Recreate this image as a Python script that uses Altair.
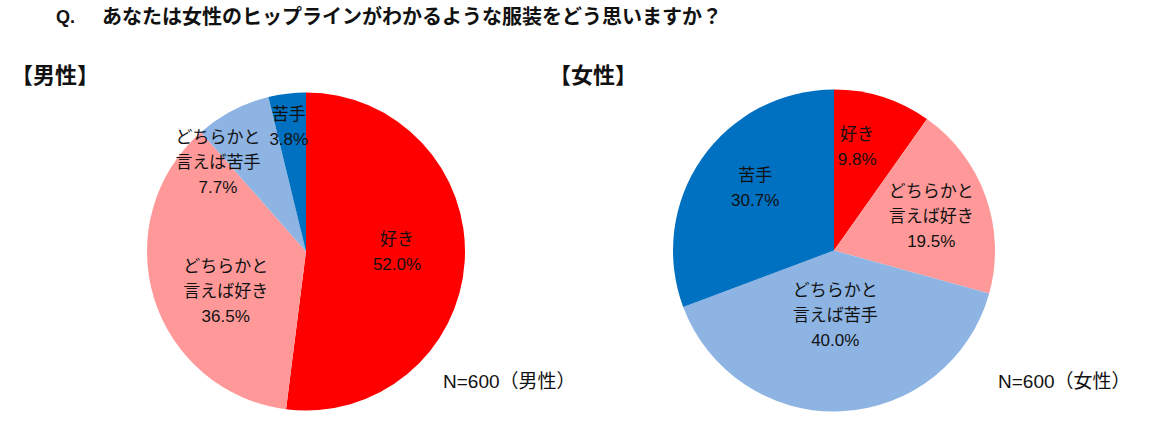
import altair as alt
import pandas as pd

# ---------------- data ----------------
QUESTION_PREFIX = "Q."
QUESTION = "あなたは女性のヒップラインがわかるような服装をどう思いますか？"
GENDERS = ["男性", "女性"]
PANEL_TITLES = ["【男性】", "【女性】"]
N_NOTES = ["N=600（男性）", "N=600（女性）"]
CATEGORIES = ["好き", "どちらかと言えば好き", "どちらかと言えば苦手", "苦手"]
CATEGORY_LABELS = ["好き", "どちらかと\n言えば好き", "どちらかと\n言えば苦手", "苦手"]
MALE_PCT = [52.0, 36.5, 7.7, 3.8]
FEMALE_PCT = [9.8, 19.5, 40.0, 30.7]

# ---------------- style / layout ----------------
COLORS = ["#FF0000", "#FF9999", "#8DB4E2", "#0070C0"]
W, H = 1149, 432
PIE_CX = [306, 834]
PIE_CY = [251.5, 250.5]
PIE_R = [159, 161]
LABEL_RADIUS = [[91, 90, 125, 125], [106, 103, 65.5, 100]]
LABEL_SHIFT_PCT = [[-0.9, -2.7, -4.8, -0.3], [-1.4, 0.1, 0.4, 0.9]]
LINE_H = 25
PANEL_TITLE_X = [55, 593]
PANEL_TITLE_Y = 76
NOTE_X = [443, 998]
NOTE_Y = 382
FONT = "Liberation Sans, Noto Sans CJK JP"

rows = []
for gi, (g, vals) in enumerate(zip(GENDERS, [MALE_PCT, FEMALE_PCT])):
    for ci, (c, lab, v) in enumerate(zip(CATEGORIES, CATEGORY_LABELS, vals)):
        rows.append({
            "gender": g, "cat": c, "order": ci, "pct": v, "lines": lab,
            "lr": LABEL_RADIUS[gi][ci], "shift": LABEL_SHIFT_PCT[gi][ci],
        })
df = pd.DataFrame(rows)

layers = []
for gi, g in enumerate(GENDERS):
    base = alt.Chart(df).transform_filter(alt.datum.gender == g).transform_stack(
        stack="pct", groupby=["gender"], as_=["t0", "t1"],
        sort=[alt.SortField("order", order="ascending")],
    )
    arc = base.mark_arc(radius=PIE_R[gi]).encode(
        x=alt.value(PIE_CX[gi]),
        y=alt.value(PIE_CY[gi]),
        theta=alt.Theta("t0:Q", scale=alt.Scale(domain=[0, 100])),
        theta2="t1:Q",
        color=alt.Color("cat:N", scale=alt.Scale(domain=CATEGORIES, range=COLORS), legend=None),
    )
    layers.append(arc)
    lab_base = base.transform_calculate(
        tm="(datum.t0 + datum.t1) / 2 + datum.shift",
        txt="datum.lines + '\\n' + format(datum.pct, '.1f') + '%'",
        nl="indexof(datum.lines, '\\n') >= 0 ? 3 : 2",
    )
    for n in (2, 3):
        lab = lab_base.transform_filter(alt.datum.nl == n).mark_text(
            font=FONT, fontSize=17, lineBreak="\n", lineHeight=LINE_H,
            align="center", baseline="middle", color="#111111",
            dy=-(n - 1) * LINE_H / 2,
        ).encode(
            x=alt.value(PIE_CX[gi]),
            y=alt.value(PIE_CY[gi]),
            theta=alt.Theta("tm:Q", scale=alt.Scale(domain=[0, 100])),
            radius=alt.Radius("lr:Q", scale=None),
            text="txt:N",
        )
        layers.append(lab)

q_prefix = alt.Chart(pd.DataFrame({"t": [QUESTION_PREFIX]})).mark_text(
    font=FONT, fontSize=18, fontWeight="bold", align="left", baseline="middle", color="#111111"
).encode(x=alt.value(56), y=alt.value(18), text="t:N")
q_text = alt.Chart(pd.DataFrame({"t": [QUESTION]})).mark_text(
    font=FONT, fontSize=20, fontWeight="bold", align="left", baseline="middle", color="#111111"
).encode(x=alt.value(102), y=alt.value(18), text="t:N")

panel_df = pd.DataFrame({"t": PANEL_TITLES, "px": PANEL_TITLE_X})
panels = alt.Chart(panel_df).mark_text(
    font=FONT, fontSize=22, fontWeight="bold", align="center", baseline="middle", color="#111111"
).encode(x=alt.X("px:Q", scale=None, axis=None), y=alt.value(PANEL_TITLE_Y), text="t:N")

note_df = pd.DataFrame({"t": N_NOTES, "nx": NOTE_X})
notes = alt.Chart(note_df).mark_text(
    font=FONT, fontSize=19, align="left", baseline="middle", color="#111111"
).encode(x=alt.X("nx:Q", scale=None, axis=None), y=alt.value(NOTE_Y), text="t:N")

chart = alt.layer(*layers, q_prefix, q_text, panels, notes).properties(
    width=W, height=H, padding=0, autosize=alt.AutoSizeParams(type="none"),
    background="white",
).configure_view(stroke=None)

chart.save("out.html", embed_options={"renderer": "svg", "actions": False})
